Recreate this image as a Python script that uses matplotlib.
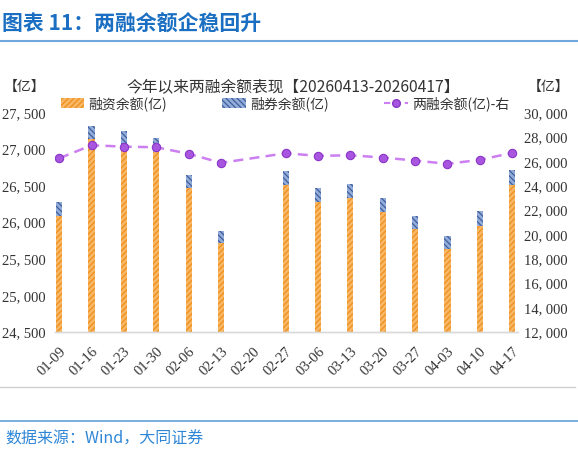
import numpy as np
import matplotlib
matplotlib.use("Agg")
import matplotlib.pyplot as plt
from matplotlib.lines import Line2D
from matplotlib.patches import Patch
from matplotlib.ticker import FuncFormatter

plt.rcParams['font.family'] = ['Noto Sans CJK SC', 'DejaVu Sans']
plt.rcParams['hatch.linewidth'] = 0.9

# ---- data ----
dates = ['01-09', '01-16', '01-23', '01-30', '02-06', '02-13', '02-20', '02-27',
         '03-06', '03-13', '03-20', '03-27', '04-03', '04-10', '04-17']
financing = [26095, 27140, 27060, 26970, 26470, 25726, np.nan, 26515,
             26278, 26337, 26146, 25909, 25635, 25954, 26515]
short_sell = [192, 186, 190, 188, 182, 164, np.nan, 192,
              192, 192, 191, 186, 182, 205, 205]
total_bal = [26286, 27349, 27243, 27186, 26654, 25909, np.nan, 26695,
             26482, 26531, 26343, 26097, 25827, 26155, 26727]

left_ticks = [24500, 25000, 25500, 26000, 26500, 27000, 27500]
right_ticks = [12000, 14000, 16000, 18000, 20000, 22000, 24000, 26000, 28000, 30000]

fig = plt.figure(figsize=(5.78, 4.58), dpi=100)
W, H = 578, 458
ax = fig.add_axes([55 / W, 1 - 332.3 / H, (518 - 55) / W, (332.3 - 113) / H])
ax2 = ax.twinx()

x = np.arange(len(dates))
fin = np.array(financing, dtype=float)
sht = np.array(short_sell, dtype=float)
tot = np.array(total_bal, dtype=float)

bw = 0.19
orange_fc = '#F8B764'
orange_hc = '#EE8F1E'
blue_fc = '#93ACD8'
blue_hc = '#3F5E9E'

ax.bar(x, fin - 24500, bottom=24500, width=bw, color=orange_fc, edgecolor=orange_hc,
       hatch='//////', linewidth=0, zorder=2)
ax.bar(x, sht, bottom=fin, width=bw, color=blue_fc, edgecolor=blue_hc,
       hatch='\\\\\\\\\\\\', linewidth=0, zorder=2)

mask = ~np.isnan(tot)
line_c = '#CC7FF0'
ax2.plot(x[mask], tot[mask], linestyle=(0, (4, 2.5)), color=line_c, linewidth=1.8,
         marker='o', markersize=6, markerfacecolor='#A855E0', markeredgecolor='#8A35C8',
         markeredgewidth=0.8, zorder=3)

ax.set_xlim(-0.13, 14.18)
ax.set_ylim(24500, 27500)
ax2.set_ylim(12000, 30000)
ax.set_yticks(left_ticks)
ax2.set_yticks(right_ticks)

fmt = FuncFormatter(lambda v, p: f"{int(v):,}".replace(',', ', '))
ax.yaxis.set_major_formatter(fmt)
ax2.yaxis.set_major_formatter(fmt)

serif = ['Liberation Serif', 'DejaVu Serif']
for lab in ax.get_yticklabels() + ax2.get_yticklabels():
    lab.set_fontfamily(serif); lab.set_fontsize(10.5); lab.set_color('#333333')

ax.set_xticks(x)
ax.set_xticklabels(dates, rotation=45, ha='right', va='top', rotation_mode='anchor',
                   fontfamily=serif, fontsize=10.5, color='#333333')

ax.tick_params(axis='y', length=0, pad=6.5)
ax2.tick_params(axis='y', length=0, pad=4.5)
ax.tick_params(axis='x', length=0, pad=9)

for a in (ax, ax2):
    for s in ('top', 'left', 'right'):
        a.spines[s].set_visible(False)
    a.spines['bottom'].set_color('#D9D9D9')
    a.spines['bottom'].set_linewidth(1.0)
ax.set_zorder(ax2.get_zorder() - 1)
ax2.patch.set_visible(False)
ax.patch.set_visible(False)

# legend
handles = [
    Patch(facecolor=orange_fc, edgecolor=orange_hc, hatch='//////', linewidth=0, label='融资余额(亿)'),
    Patch(facecolor=blue_fc, edgecolor=blue_hc, hatch='\\\\\\\\\\\\', linewidth=0, label='融券余额(亿)'),
    Line2D([0], [0], linestyle=(0, (3, 2)), color=line_c, linewidth=1.5, marker='o', markersize=5.5,
           markerfacecolor='#A855E0', markeredgecolor='#8A35C8', label='两融余额(亿)-右'),
]
fig.legend(handles=handles, ncol=3, loc='center', bbox_to_anchor=(285 / W, 1 - 103.5 / H),
           frameon=False, fontsize=10, handlelength=1.7, handleheight=0.8, handletextpad=0.3,
           columnspacing=4.0, labelcolor='#333333')

# texts
fig.text(2 / W, 1 - 24 / H, '图表 11：两融余额企稳回升', fontsize=15, fontweight='bold',
         color='#1B6FC2', ha='left', va='center')
fig.add_artist(Line2D([0, 1], [1 - 41 / H, 1 - 41 / H], transform=fig.transFigure,
                      color='#6FA8DC', linewidth=1.5))
fig.text(293 / W, 1 - 87 / H, '今年以来两融余额表现【20260413-20260417】', fontsize=11.3,
         color='#333333', ha='center', va='center')
fig.text(25 / W, 1 - 87 / H, '【亿】', fontsize=10, color='#333333', ha='center', va='center')
fig.text(549 / W, 1 - 87 / H, '【亿】', fontsize=10, color='#333333', ha='center', va='center')

fig.add_artist(Line2D([0, 575 / W], [1 - 387 / H, 1 - 387 / H], transform=fig.transFigure,
                      color='#CFCFCF', linewidth=1.0))
fig.add_artist(Line2D([0, 1], [1 - 421 / H, 1 - 421 / H], transform=fig.transFigure,
                      color='#6FA8DC', linewidth=1.3))
fig.text(5 / W, 1 - 439 / H, '数据来源：Wind，大同证券', fontsize=11.5, color='#2F86D6',
         ha='left', va='center')

fig.savefig('out.png', dpi=100)
